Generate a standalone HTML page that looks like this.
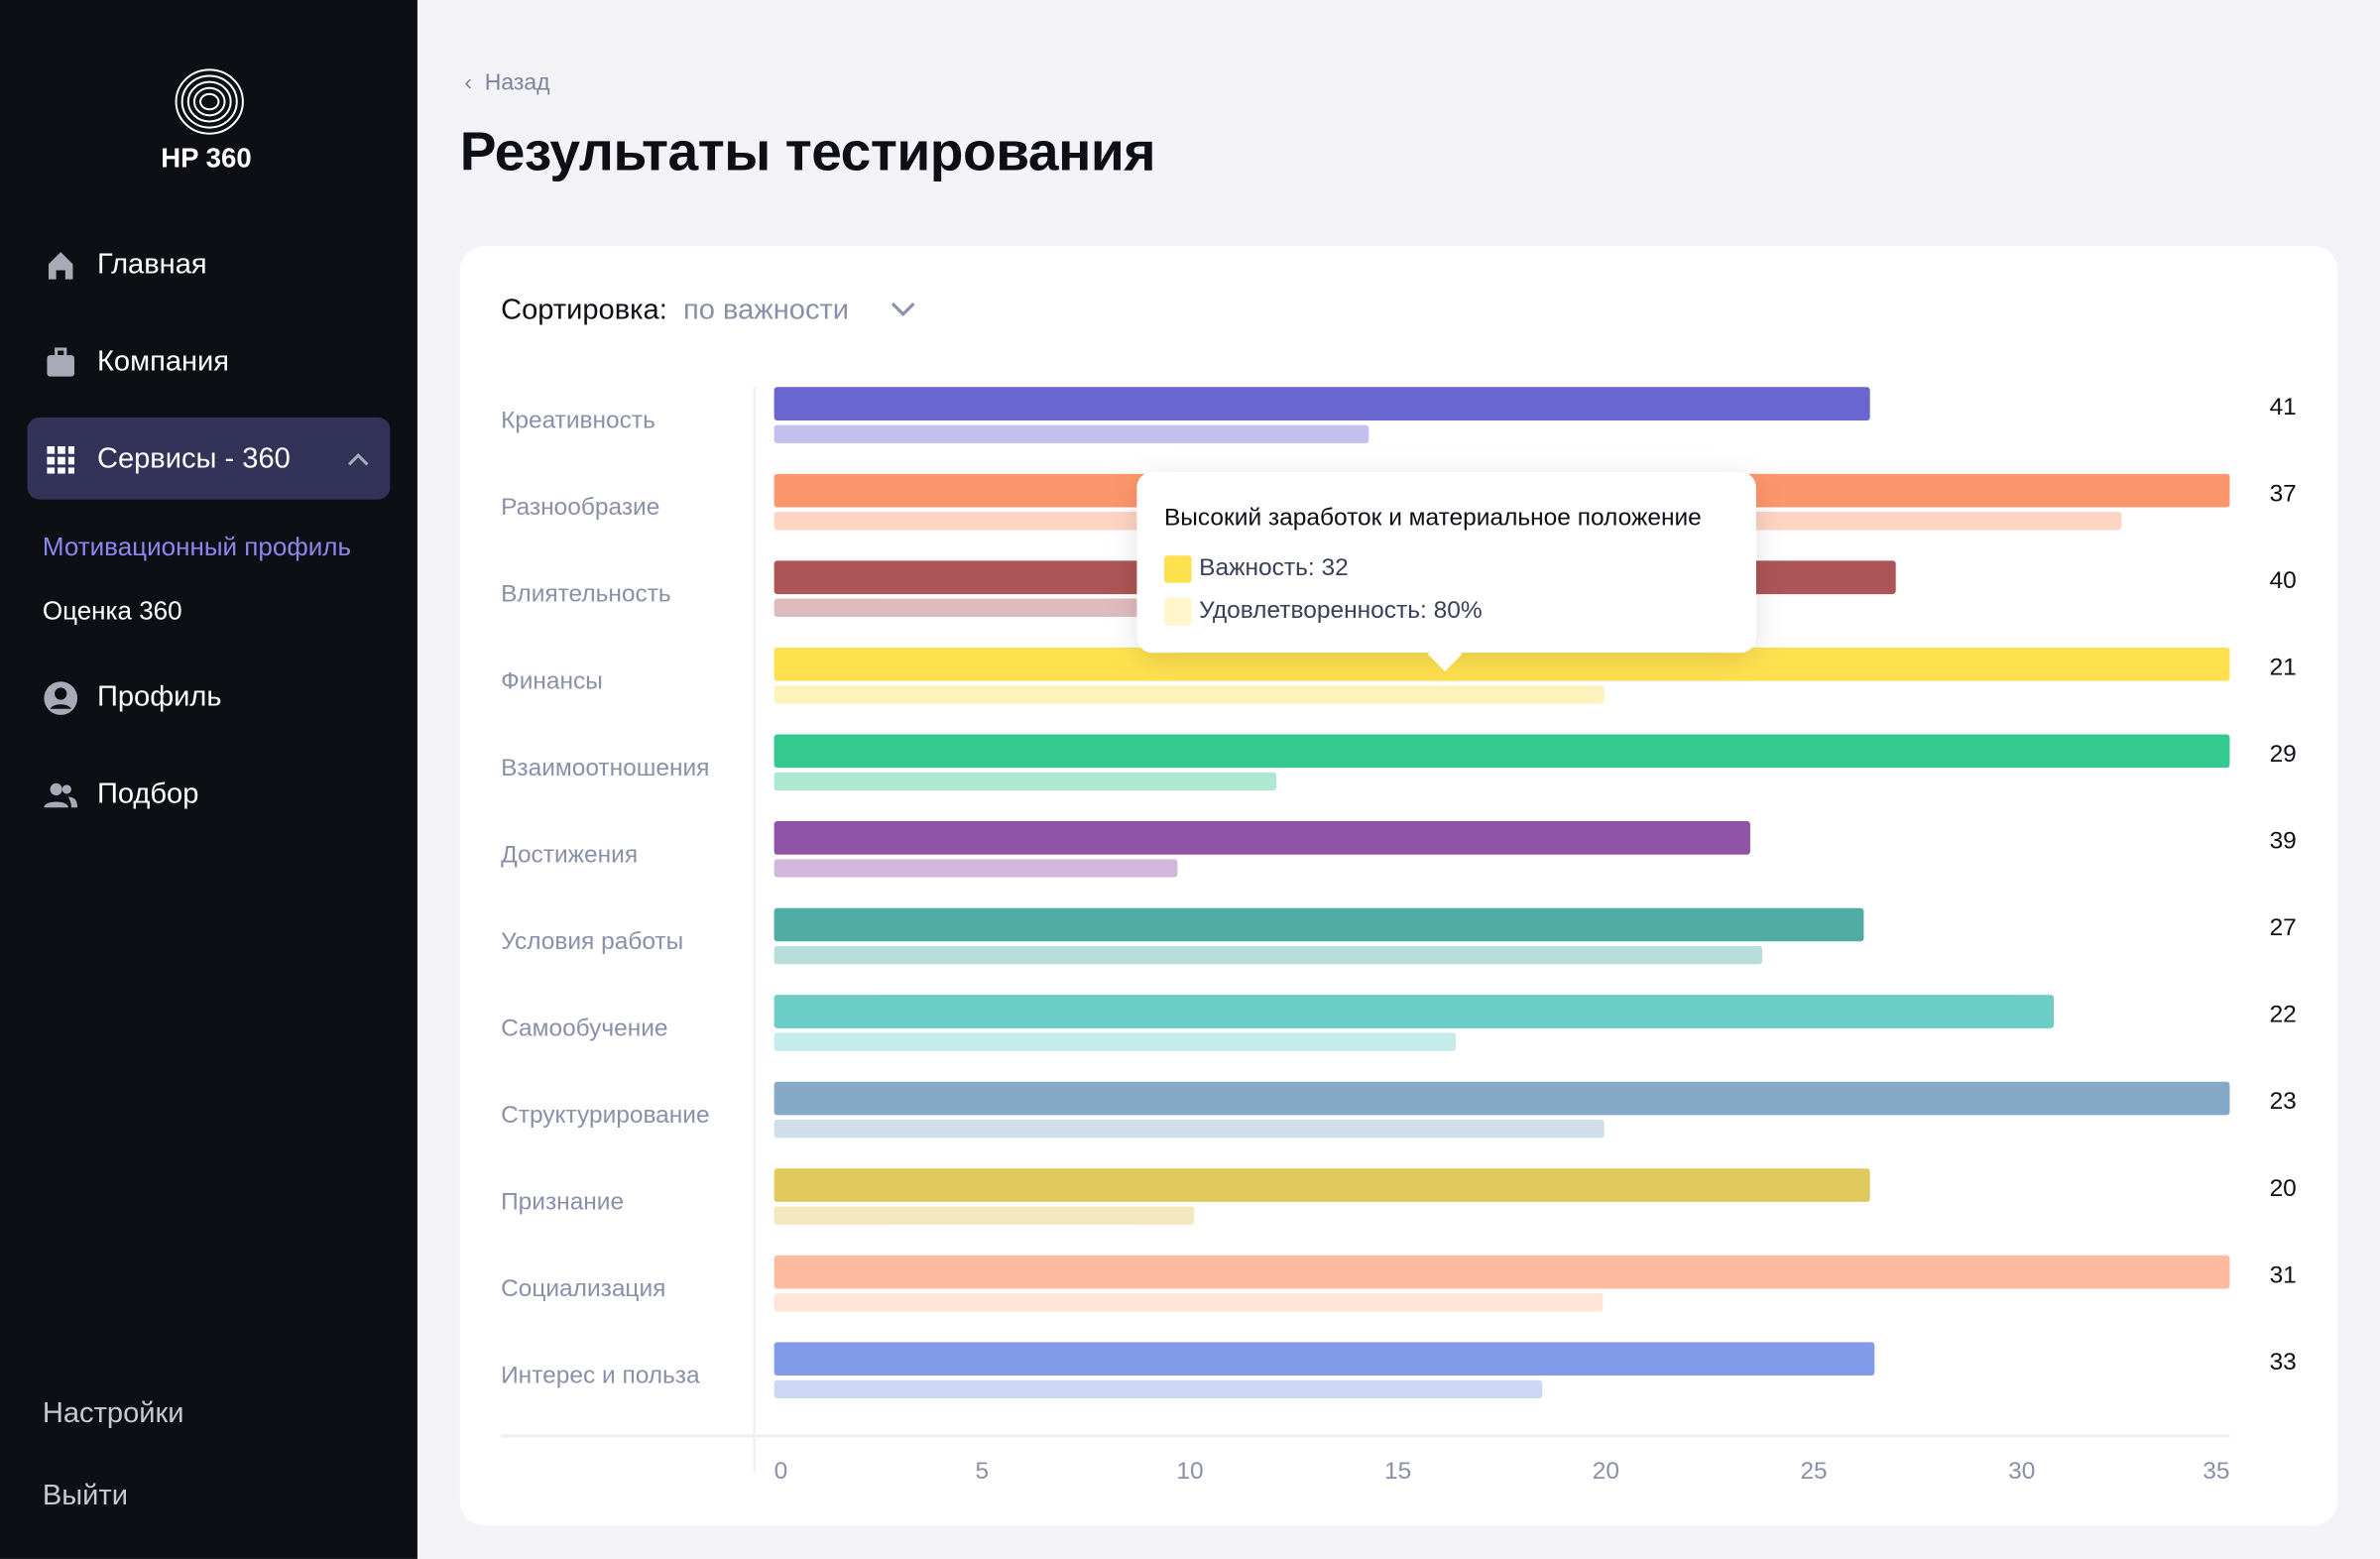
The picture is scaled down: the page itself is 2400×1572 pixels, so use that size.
<!DOCTYPE html>
<html><head><meta charset="utf-8">
<style>
html,body{margin:0;padding:0;width:2400px;height:1572px;overflow:hidden;background:#f2f2f7;font-family:"Liberation Sans","DejaVu Sans",sans-serif;}
#root{position:absolute;left:0;top:0;width:1568px;height:1027px;transform:scale(1.5306);transform-origin:0 0;background:#f2f2f7;}
.sb{position:absolute;left:0;top:0;width:275px;height:1027px;background:#0e0f15;}
.nav{position:absolute;left:28px;color:#fff;font-size:19px;display:flex;align-items:center;gap:12px}
.ico{width:24px;height:24px;display:inline-block}
.abs{position:absolute}
</style></head><body>
<div id="root">
<div class="sb">
  <svg class="abs" style="left:113px;top:44px" width="50" height="46">
    <g fill="none" stroke="#fff" stroke-width="1.3">
      <ellipse cx="25" cy="23" rx="22" ry="21"/><ellipse cx="25" cy="23" rx="18" ry="17"/><ellipse cx="25" cy="23" rx="14" ry="13"/><ellipse cx="25" cy="23" rx="10" ry="9"/><ellipse cx="25" cy="23" rx="6" ry="5"/>
    </g></svg>
  <div class="abs" style="left:106px;top:94px;color:#fff;font-weight:bold;font-size:18px">HP 360</div>
  <div class="nav" style="top:163px"><svg class="ico" viewBox="0 0 24 24"><path d="M4 11L12 3l8 8v10h-5v-6H9v6H4z" fill="#a9a9b8"/></svg>Главная</div>
  <div class="nav" style="top:227px"><svg class="ico" viewBox="0 0 24 24"><rect x="3" y="7" width="18" height="14" rx="2" fill="#a9a9b8"/><rect x="9" y="3" width="6" height="5" fill="none" stroke="#a9a9b8" stroke-width="2"/></svg>Компания</div>
  <div class="abs" style="left:18px;top:275px;width:239px;height:54px;background:#33335a;border-radius:8px"></div>
  <div class="nav" style="top:291px"><svg class="ico" viewBox="0 0 24 24" fill="#fff"><rect x="3" y="3" width="5" height="5"/><rect x="10" y="3" width="5" height="5"/><rect x="17" y="3" width="4" height="5"/><rect x="3" y="10" width="5" height="5"/><rect x="10" y="10" width="5" height="5"/><rect x="17" y="10" width="4" height="5"/><rect x="3" y="17" width="5" height="4"/><rect x="10" y="17" width="5" height="4"/><rect x="17" y="17" width="4" height="4"/></svg>Сервисы - 360</div>
  <svg class="abs" style="left:228px;top:296px" width="16" height="12"><path d="M2 10L8 4l6 6" stroke="#a9a9b8" stroke-width="2" fill="none"/></svg>
  <div class="abs" style="left:28px;top:351px;color:#8c86f0;font-size:17px">Мотивационный профиль</div>
  <div class="abs" style="left:28px;top:393px;color:#fff;font-size:17px">Оценка 360</div>
  <div class="nav" style="top:448px"><svg class="ico" viewBox="0 0 24 24"><circle cx="12" cy="12" r="11" fill="#a9a9b8"/><circle cx="12" cy="9" r="4" fill="#0e0f15"/><path d="M5 19c2-4 12-4 14 0" fill="#0e0f15"/></svg>Профиль</div>
  <div class="nav" style="top:512px"><svg class="ico" viewBox="0 0 24 24" fill="#a9a9b8"><circle cx="9" cy="8" r="4"/><path d="M1 20c0-5 16-5 16 0z"/><circle cx="16" cy="8" r="3"/><path d="M17 13c4 0 6 2 6 7h-4c0-3-1-5-2-7z"/></svg>Подбор</div>
  <div class="abs" style="left:28px;top:921px;color:#c8c8d4;font-size:19px">Настройки</div>
  <div class="abs" style="left:28px;top:975px;color:#c8c8d4;font-size:19px">Выйти</div>
</div>
<div class="abs" style="left:306px;top:46px;color:#7f849d;font-size:15px">‹&nbsp; Назад</div>
<div class="abs" style="left:303px;top:79px;color:#0e0f15;font-size:36px;font-weight:bold;letter-spacing:-0.3px">Результаты тестирования</div>
<div class="abs" style="left:303px;top:162px;width:1237px;height:843px;background:#fff;border-radius:16px"></div>
<div class="abs" style="left:330px;top:194px;font-size:19px;color:#0e0f15">Сортировка: <span style="color:#8a90aa">&nbsp;по важности</span></div>
<svg class="abs" style="left:586px;top:198px" width="18" height="12"><path d="M2 2l7 7 7-7" stroke="#8a90aa" stroke-width="2" fill="none"/></svg>
<svg id="chart" class="abs" style="left:0;top:0" width="1568" height="1027"></svg>
<div class="abs" style="left:749px;top:311px;width:408px;height:119px;background:#fff;border-radius:10px;box-shadow:0 4px 20px rgba(0,0,0,0.12)">
  <div class="abs" style="left:195px;top:112px;width:16px;height:16px;background:#fff;transform:rotate(45deg)"></div>
  <div class="abs" style="left:18px;top:22px;font-size:16px;color:#0e0f15">Высокий заработок и материальное положение</div>
  <div class="abs" style="left:18px;top:55px;width:18px;height:18px;background:#ffe14f;border-radius:2px"></div>
  <div class="abs" style="left:41px;top:55px;font-size:16px;color:#3a3f5a">Важность: 32</div>
  <div class="abs" style="left:18px;top:83px;width:18px;height:18px;background:#fff6cc;border-radius:2px"></div>
  <div class="abs" style="left:41px;top:83px;font-size:16px;color:#3a3f5a">Удовлетворенность: 80%</div>
</div>
</div>
<script>
const categories=["Креативность","Разнообразие","Влиятельность","Финансы","Взаимоотношения","Достижения","Условия работы","Самообучение","Структурирование","Признание","Социализация","Интерес и польза"];
const importance=[26.35,35,26.97,35,35,23.47,26.2,30.77,35,26.35,35,26.46];
const satisfaction=[14.3,32.4,18,19.96,12.08,9.7,23.76,16.39,19.96,10.1,19.93,18.47];
const scores=[41,37,40,21,29,39,27,22,23,20,31,33];
const ticks=[0,5,10,15,20,25,30,35];
const colors=["#6966cf","#fd966c","#ad5556","#ffe14f","#33c98f","#8e52a6","#51aca4","#6bcdc6","#87a9c8","#e0c95d","#ffbb9f","#819bea"];
const lights=["#c2c1ee","#fed4c3","#dfbbbd","#fff3bd","#ade9d2","#d3b8dd","#b8dedb","#c3ecea","#d0deea","#f4e8be","#ffe4da","#cdd8f6"];
const svg=document.getElementById('chart');const NS="http://www.w3.org/2000/svg";
const x=v=>510+v*(1469-510)/35;const rowY=i=>255+i*57.2;
function el(t,a,txt){const e=document.createElementNS(NS,t);for(const k in a)e.setAttribute(k,a[k]);if(txt!==undefined)e.textContent=txt;svg.appendChild(e);return e;}
let l=el('line',{x1:497,y1:255,x2:497,y2:970,stroke:'#f0f0f4','stroke-width':1.5});


l=el('line',{x1:330,y1:946,x2:1469,y2:946,stroke:'#eeeef3','stroke-width':2});


categories.forEach((c,i)=>{const y=rowY(i);
 let t=el('text',{x:330,y:y+27,'font-size':16,fill:'#8a90aa','font-family':'Liberation Sans, sans-serif'},c);
 
 
 let b=el('rect',{x:x(0),y:y,width:x(importance[i])-x(0),height:22,rx:2,fill:colors[i]});
 
 
 b=el('rect',{x:x(0),y:y+25,width:x(satisfaction[i])-x(0),height:12,rx:2,fill:lights[i]});
 
 
 t=el('text',{x:1513,y:y+18,'font-size':16,fill:'#0e0f15','text-anchor':'end','font-family':'Liberation Sans, sans-serif'},scores[i]);
 
 
});
ticks.forEach((v,i)=>{const t=el('text',{x:x(v),y:974,'font-size':16,fill:'#8a90aa','text-anchor':i==0?'start':(i==ticks.length-1?'end':'middle'),'font-family':'Liberation Sans, sans-serif'},v);
 
 });
</script>
</body></html>
